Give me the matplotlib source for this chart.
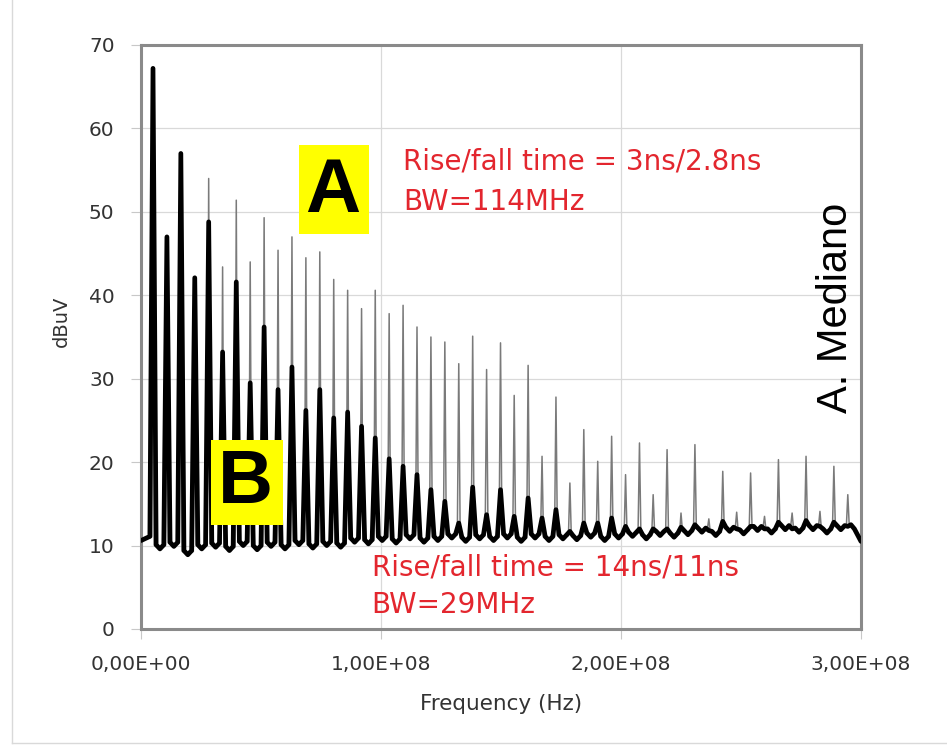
import numpy as np
import matplotlib
matplotlib.use("Agg")
import matplotlib.pyplot as plt
from matplotlib.patches import Rectangle
from matplotlib.lines import Line2D
from matplotlib.ticker import FuncFormatter, MultipleLocator

# harmonic lines of the clock spectrum (MHz)
harmonic_mhz = [5.0, 10.8, 16.6, 22.4, 28.2, 34.0, 39.7, 45.5, 51.3, 57.1,
                62.9, 68.7, 74.5, 80.3, 86.1, 91.9, 97.6, 103.4, 109.2, 115.0,
                120.8, 126.6, 132.4, 138.2, 144.0, 149.8, 155.5, 161.3, 167.1, 172.9,
                178.7, 184.5, 190.3, 196.1, 201.9, 207.7, 213.4, 219.2, 225.0, 230.8,
                236.6, 242.4, 248.2, 254.0, 259.8, 265.6, 271.3, 277.1, 282.9, 288.7,
                294.5]

# A: fast edges (3ns/2.8ns), peak level per harmonic (dBuV)
peaks_a = [67.2, 47.0, 57.0, 42.1, 54.0, 43.4, 51.4, 44.0, 49.3, 45.4,
           47.0, 44.5, 45.2, 41.9, 40.6, 38.4, 40.6, 37.8, 38.8, 36.2,
           35.0, 34.4, 31.8, 35.1, 31.1, 34.3, 28.0, 31.6, 20.7, 27.8,
           17.5, 23.9, 20.1, 23.1, 18.5, 22.3, 16.1, 21.5, 13.9, 22.1,
           13.2, 18.9, 14.0, 18.7, 13.5, 20.3, 13.9, 20.7, 14.1, 19.5,
           16.1]

# B: slow edges (14ns/11ns)
peaks_b = [67.2, 47.0, 57.0, 42.1, 48.8, 33.2, 41.6, 29.5, 36.2, 28.7,
           31.4, 26.2, 28.7, 25.3, 26.0, 24.3, 22.9, 20.4, 19.5, 18.5,
           16.7, 15.3, 12.7, 17.0, 13.7, 16.7, 13.5, 15.7, 13.3, 14.3,
           11.7, 12.7, 12.7, 13.3, 12.3, 12.0, 12.0, 12.0, 12.2, 12.5,
           11.8, 12.9, 12.0, 12.3, 12.0, 12.8, 12.0, 13.0, 12.3, 12.8,
           12.3]

# noise floor between consecutive harmonics (dBuV)
floor_start = 10.6
floor_gaps = [9.6, 9.9, 8.9, 9.6, 9.8, 9.4, 10.0, 9.5, 9.9, 9.6,
              10.1, 9.7, 10.0, 9.8, 10.4, 10.2, 10.6, 10.3, 10.8, 10.4,
              10.6, 10.9, 10.5, 10.8, 10.6, 10.9, 10.5, 10.9, 10.6, 10.8,
              10.7, 11.0, 10.6, 10.9, 11.1, 10.8, 11.2, 11.0, 11.3, 11.6,
              11.2, 11.7, 11.4, 11.8, 11.5, 11.9, 11.6, 11.9, 11.5, 11.9,
              12.0]
floor_end = 10.5

x_ticks = [0, 1e8, 2e8, 3e8]
f_max_mhz = 300.0


def trace(peaks, half_width, skirt):
    # spectrum line: a dip between harmonics and a narrow spike on each one
    xs = [0.0]
    ys = [floor_start]
    n = len(harmonic_mhz)
    for k in range(n):
        f = harmonic_mhz[k]
        left = floor_gaps[k - 1] if k > 0 else floor_start
        right = floor_gaps[k]
        nxt = harmonic_mhz[k + 1] if k + 1 < n else f_max_mhz
        xs += [f - half_width, f, f + half_width, (f + nxt) / 2]
        ys += [left + skirt, peaks[k], right + skirt, right]
    xs.append(f_max_mhz)
    ys.append(floor_end)
    return np.array(xs) * 1e6, np.array(ys)


fig = plt.figure(figsize=(9.47, 7.5), dpi=100)
ax = fig.add_axes([141 / 947, 121 / 750, 720 / 947, 584 / 750])

xa, ya = trace(peaks_a, 0.6, 0.4)
xb, yb = trace(peaks_b, 1.3, 0.5)
ax.plot(xa, ya, color="#7a7a7a", lw=1.1, zorder=3)
ax.plot(xb, yb, color="black", lw=3.4, zorder=4,
        solid_joinstyle="round", solid_capstyle="round")

ax.set_xlim(0, 3e8)
ax.set_ylim(0, 70)
ax.set_xticks(x_ticks)
ax.yaxis.set_major_locator(MultipleLocator(10))
ax.xaxis.set_major_formatter(FuncFormatter(lambda v, p: f"{v:.2E}".replace(".", ",")))

ax.grid(True, color="#d9d9d9", lw=0.9, zorder=0)
ax.set_axisbelow(True)
for s in ax.spines.values():
    s.set_color("#8a8a8a")
    s.set_linewidth(2.2)
ax.tick_params(axis="both", direction="out", length=7, width=0.8, color="#c8c8c8",
               labelsize=14.5, labelcolor="#333333", pad=12)

ax.set_xlabel("Frequency (Hz)", fontsize=15.5, color="#333333")
ax.xaxis.set_label_coords(0.5, -0.112)
ax.set_ylabel("dBuV", fontsize=14, color="#333333")
ax.yaxis.set_label_coords(-0.097, 0.527)

# yellow labels for the two traces
ax.add_patch(Rectangle((0.2194, 0.6764), 0.0973, 0.1524, transform=ax.transAxes,
                       facecolor="#ffff00", edgecolor="none", zorder=6))
ax.text(0.266, 0.714, "A", transform=ax.transAxes, ha="center", va="baseline",
        fontsize=55, fontweight="bold", family="Liberation Sans", zorder=7)
ax.add_patch(Rectangle((0.0968, 0.178), 0.1, 0.1456, transform=ax.transAxes,
                       facecolor="#ffff00", edgecolor="none", zorder=6))
ax.text(0.1444, 0.2152, "B", transform=ax.transAxes, ha="center", va="baseline",
        fontsize=55, fontweight="bold", family="Liberation Sans", zorder=7)

red = "#e3262e"
ax.text(0.3639, 0.786, "Rise/fall time = 3ns/2.8ns", transform=ax.transAxes,
        color=red, fontsize=20, va="baseline", zorder=7)
ax.text(0.3639, 0.7175, "BW=114MHz", transform=ax.transAxes,
        color=red, fontsize=20, va="baseline", zorder=7)
ax.text(0.3204, 0.0908, "Rise/fall time = 14ns/11ns", transform=ax.transAxes,
        color=red, fontsize=20, va="baseline", zorder=7)
ax.text(0.3204, 0.0269, "BW=29MHz", transform=ax.transAxes,
        color=red, fontsize=20, va="baseline", zorder=7)

ax.text(0.965, 0.5505, "A. Mediano", transform=ax.transAxes, rotation=90,
        ha="center", va="center", fontsize=30, family="Liberation Sans", zorder=7)

# thin frame around the chart area
fig.add_artist(Line2D([12 / 947, 12 / 947], [7 / 750, 1], color="#d9d9d9", lw=1))
fig.add_artist(Line2D([12 / 947, 1], [7 / 750, 7 / 750], color="#d9d9d9", lw=1))

fig.savefig("out.png", dpi=100)
